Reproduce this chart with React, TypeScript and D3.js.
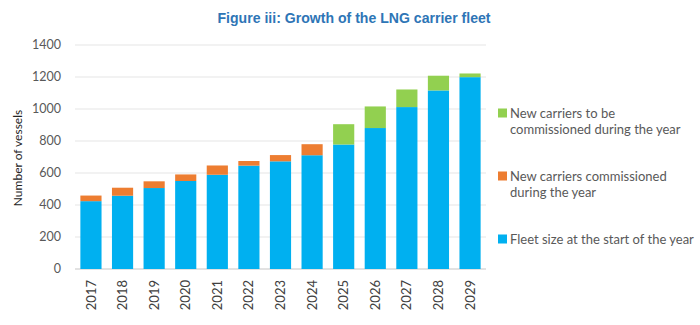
import React from "react";
import * as d3 from "d3";

const years = ["2017","2018","2019","2020","2021","2022","2023","2024","2025","2026","2027","2028","2029"];
const fleetStart = [424, 458, 506, 550, 589, 646, 673, 711, 778, 881, 1012, 1116, 1199];
const commissioned = [35, 50, 42, 41, 58, 29, 39, 69, 0, 0, 0, 0, 0];
const toBeCommissioned = [0, 0, 0, 0, 0, 0, 0, 0, 127, 135, 110, 92, 23];
const yTicks = [0, 200, 400, 600, 800, 1000, 1200, 1400];
const seriesNames = ["Fleet size at the start of the year", "New carriers commissioned during the year", "New carriers to be commissioned during the year"];
const colors = ["#00B0F0", "#ED7D31", "#92D050"];

const W = 700, H = 325;
const margin = { left: 75, right: 214, top: 45, bottom: 56 };

export default function App() {
  const x = d3.scaleBand<string>().domain(years).range([margin.left, W - margin.right]).paddingInner(0.33).paddingOuter(0.17);
  const y = d3.scaleLinear().domain([0, 1400]).range([H - margin.bottom, margin.top]);
  const rows = years.map((yr, i) => ({ year: yr, fleet: fleetStart[i], comm: commissioned[i], tobe: toBeCommissioned[i] }));
  const stack = d3.stack<any>().keys(["fleet", "comm", "tobe"])(rows);
  const font = "Lato, 'Open Sans', sans-serif";
  const legend = [
    { color: colors[2], lines: ["New carriers to be", "commissioned during the year"], y: 113 },
    { color: colors[1], lines: ["New carriers commissioned", "during the year"], y: 176 },
    { color: colors[0], lines: ["Fleet size at the start of the year"], y: 239 },
  ];
  return (
    <svg width={W} height={H} style={{ position: "absolute", left: 0, top: 0, background: "#fff" }}>
      <text x={354} y={23} textAnchor="middle" fontFamily="'Liberation Sans', Arial, sans-serif" fontWeight="bold" fontSize={14.5} fill="#2E75B6" textLength={273} lengthAdjust="spacingAndGlyphs">
        Figure iii: Growth of the LNG carrier fleet
      </text>
      {yTicks.map((t) => (
        <g key={t}>
          <line x1={margin.left} x2={W - margin.right} y1={y(t)} y2={y(t)} stroke={t === 0 ? "#d9d9d9" : "#eeeeee"} strokeWidth={1.3} />
          <text x={61} y={y(t)} dy="0.35em" textAnchor="end" fontFamily={font} fontSize={12.5} fill="#595959">{t}</text>
        </g>
      ))}
      {stack.map((s, si) => (
        <g key={si} fill={colors[si]}>
          {s.map((d, i) => (d[1] - d[0] > 0 ? (
            <rect key={i} x={x(years[i])!} width={x.bandwidth()} y={y(d[1])} height={y(d[0]) - y(d[1])} />
          ) : null))}
        </g>
      ))}
      {years.map((yr) => (
        <text key={yr} transform={`translate(${x(yr)! + x.bandwidth() / 2},280) rotate(-90)`} textAnchor="end" dy="0.35em" fontFamily={font} fontSize={13} fill="#404040">{yr}</text>
      ))}
      <text transform={`translate(18,158) rotate(-90)`} textAnchor="middle" dy="0.35em" fontFamily={font} fontSize={12} fill="#222">Number of vessels</text>
      {legend.map((l, i) => (
        <g key={i}>
          <rect x={498} y={l.y - 4.5} width={9} height={9} fill={l.color} />
          {l.lines.map((ln, j) => (
            <text key={j} x={510} y={l.y + j * 16} dy="0.35em" fontFamily={font} fontSize={13} fill="#595959">{ln}</text>
          ))}
        </g>
      ))}
    </svg>
  );
}
